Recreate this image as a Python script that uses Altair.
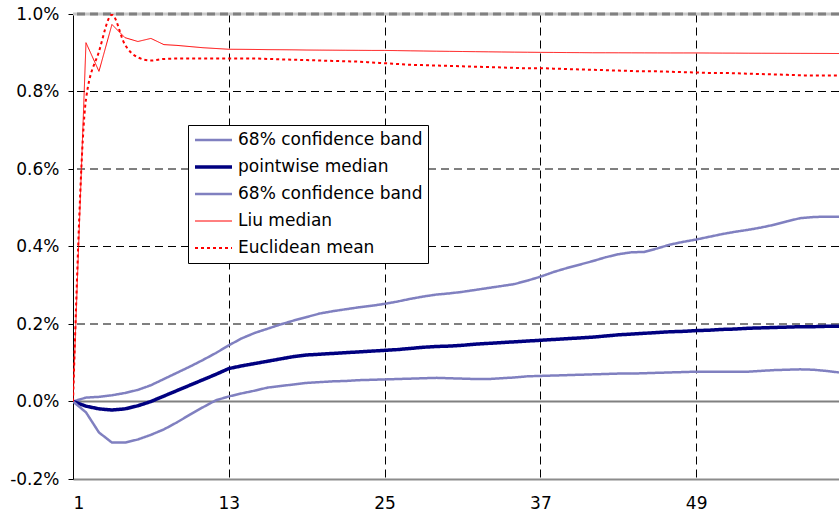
import altair as alt
import pandas as pd

# Horizon (periods) and responses in percent
periods = list(range(1, 61))

band_upper = [0, 0.010, 0.012, 0.016, 0.022, 0.030, 0.042, 0.058, 0.074, 0.090,
              0.107, 0.125, 0.145, 0.163, 0.177, 0.188, 0.199, 0.209, 0.218, 0.227,
              0.233, 0.238, 0.243, 0.247, 0.252, 0.258, 0.265, 0.271, 0.276, 0.279,
              0.283, 0.288, 0.293, 0.298, 0.303, 0.312, 0.322, 0.334, 0.344, 0.353,
              0.362, 0.372, 0.380, 0.385, 0.386, 0.395, 0.405, 0.412, 0.418, 0.425,
              0.432, 0.438, 0.443, 0.449, 0.456, 0.465, 0.473, 0.476, 0.477, 0.477]

pointwise_median = [0, -0.012, -0.019, -0.022, -0.019, -0.011, 0.0, 0.014, 0.028, 0.042,
                    0.056, 0.070, 0.085, 0.092, 0.098, 0.104, 0.110, 0.116, 0.120, 0.122,
                    0.124, 0.126, 0.128, 0.130, 0.132, 0.134, 0.137, 0.140, 0.142, 0.143,
                    0.145, 0.148, 0.150, 0.152, 0.154, 0.156, 0.158, 0.160, 0.162, 0.164,
                    0.166, 0.169, 0.172, 0.174, 0.176, 0.178, 0.180, 0.181, 0.183, 0.184,
                    0.186, 0.187, 0.189, 0.190, 0.191, 0.192, 0.193, 0.193, 0.194, 0.194]

band_lower = [0, -0.028, -0.080, -0.106, -0.106, -0.098, -0.086, -0.072, -0.054, -0.034,
              -0.015, 0.003, 0.013, 0.021, 0.028, 0.036, 0.040, 0.044, 0.048, 0.050,
              0.052, 0.053, 0.055, 0.056, 0.057, 0.058, 0.059, 0.060, 0.061, 0.060,
              0.059, 0.058, 0.058, 0.060, 0.062, 0.065, 0.066, 0.067, 0.068, 0.069,
              0.070, 0.071, 0.072, 0.072, 0.073, 0.074, 0.075, 0.076, 0.077, 0.077,
              0.077, 0.077, 0.077, 0.079, 0.081, 0.082, 0.083, 0.082, 0.079, 0.075]

liu_median = [0, 0.926, 0.852, 0.973, 0.939, 0.929, 0.937, 0.921, 0.919, 0.916,
              0.913, 0.911, 0.909, 0.9088, 0.9085, 0.908, 0.9078, 0.9075, 0.907, 0.9068,
              0.9066, 0.9064, 0.9062, 0.906, 0.906, 0.9055, 0.905, 0.9045, 0.904, 0.9036,
              0.9032, 0.9028, 0.9024, 0.902, 0.9016, 0.9013, 0.901, 0.9008, 0.9005, 0.9003,
              0.900, 0.900, 0.8999, 0.8998, 0.8997, 0.8996, 0.8995, 0.8995, 0.8995, 0.8993,
              0.8991, 0.899, 0.8988, 0.8987, 0.8986, 0.8985, 0.8984, 0.8983, 0.8982, 0.898]

euclidean_mean = [0, 0.78, 0.903, 0.998, 0.921, 0.888, 0.880, 0.884, 0.885, 0.885,
                  0.885, 0.885, 0.885, 0.885, 0.885, 0.884, 0.883, 0.882, 0.881, 0.880,
                  0.879, 0.878, 0.877, 0.875, 0.873, 0.871, 0.869, 0.868, 0.867, 0.866,
                  0.865, 0.864, 0.863, 0.862, 0.861, 0.860, 0.860, 0.859, 0.858, 0.857,
                  0.856, 0.855, 0.854, 0.853, 0.852, 0.852, 0.851, 0.850, 0.849, 0.848,
                  0.848, 0.847, 0.846, 0.845, 0.844, 0.843, 0.842, 0.841, 0.841, 0.841]

series_keys = ["band_hi", "median", "band_lo", "liu", "euclid"]
series_labels = ["68% confidence band", "pointwise median", "68% confidence band",
                 "Liu median", "Euclidean mean"]
series_colors = ["#8080C0", "#000080", "#8080C0", "#FF0000", "#FF0000"]
series_widths = [2.5, 3.5, 2.5, 1.0, 2.0]
series_dashes = [[1, 0], [1, 0], [1, 0], [1, 0], [3, 3]]

x_ticks = [1, 13, 25, 37, 49]
y_ticks = [-0.2, 0.0, 0.2, 0.4, 0.6, 0.8, 1.0]
grid_levels = [0.2, 0.4, 0.6, 0.8]

FONT = "DejaVu Sans"
FS = 17

rows = []
for key, vals in zip(series_keys, [band_upper, pointwise_median, band_lower,
                                   liu_median, euclidean_mean]):
    for p, v in zip(periods, vals):
        rows.append({"period": p, "value": v, "series": key})
df = pd.DataFrame(rows)

label_expr = ""
for k, lab in zip(series_keys, series_labels):
    label_expr += f"datum.label == '{k}' ? '{lab}' : "
label_expr += "datum.label"

W, H = 766, 465

x_scale = alt.Scale(domain=[1, 60], nice=False, zero=False)
y_scale = alt.Scale(domain=[-0.2, 1.0], nice=False, zero=False)

legend = alt.Legend(
    title=None, orient="none", legendX=115, legendY=111,
    symbolType="stroke", symbolSize=1369, labelFont=FONT, labelFontSize=FS,
    labelColor="#000", labelExpr=label_expr, labelLimit=400,
    fillColor="white", strokeColor="#000",
    padding=5, rowPadding=7, clipHeight=20, labelOffset=4,
)

enc = dict(
    x=alt.X("period:Q", scale=x_scale,
            axis=alt.Axis(values=x_ticks, format="d", grid=True, gridDash=[8, 5],
                          gridColor="#000", gridOpacity=1, ticks=False,
                          domainColor="#8c8c8c", domainWidth=2, labelPadding=16,
                          labelFont=FONT, labelFontSize=FS, labelColor="#000",
                          title=None)),
    y=alt.Y("value:Q", scale=y_scale,
            axis=alt.Axis(values=y_ticks, grid=False,
                          labelExpr="(datum.value < 0 ? '-' : '') + "
                                    "format(abs(datum.value), '.1f') + '%'",
                          tickSize=5, tickColor="#000", domainColor="#000",
                          labelFont=FONT, labelFontSize=FS, labelColor="#000",
                          labelPadding=9, title=None)),
    color=alt.Color("series:N", scale=alt.Scale(domain=series_keys, range=series_colors),
                    legend=legend),
    strokeWidth=alt.StrokeWidth("series:N",
                                scale=alt.Scale(type="ordinal", domain=series_keys,
                                                range=series_widths),
                                legend=legend),
    strokeDash=alt.StrokeDash("series:N",
                              scale=alt.Scale(type="ordinal", domain=series_keys,
                                              range=series_dashes),
                              legend=legend),
    order="period:Q",
)

base = alt.Chart(df)
straight = base.transform_filter("datum.series != 'euclid'").mark_line(
    interpolate="linear", clip=True).encode(**enc)
smooth = base.transform_filter("datum.series == 'euclid'").mark_line(
    interpolate="monotone", clip=True).encode(**enc)

grid_df = pd.DataFrame({"level": grid_levels})
hgrid = alt.Chart(grid_df).mark_rule(color="#000", strokeDash=[8, 5], strokeWidth=1).encode(
    y=alt.Y("level:Q", scale=y_scale))

zero_line = alt.Chart(pd.DataFrame({"level": [0.0]})).mark_rule(
    color="#808080", strokeWidth=2).encode(y=alt.Y("level:Q", scale=y_scale))
top_under = alt.Chart(pd.DataFrame({"level": [1.0]})).mark_rule(
    color="#c8c8c8", strokeWidth=3).encode(y=alt.Y("level:Q", scale=y_scale))
top_line = alt.Chart(pd.DataFrame({"level": [1.0]})).mark_rule(
    color="#808080", strokeWidth=3, strokeDash=[8, 5]).encode(
    y=alt.Y("level:Q", scale=y_scale))

chart = alt.layer(hgrid, top_under, top_line, zero_line, straight, smooth).properties(
    width=W, height=H,
    autosize=alt.AutoSizeParams(type="none"),
    padding={"left": 73, "top": 14, "right": 0, "bottom": 43},
).configure(font=FONT).configure_view(stroke=None)

chart.save("out.html", embed_options={"renderer": "svg", "actions": False})
